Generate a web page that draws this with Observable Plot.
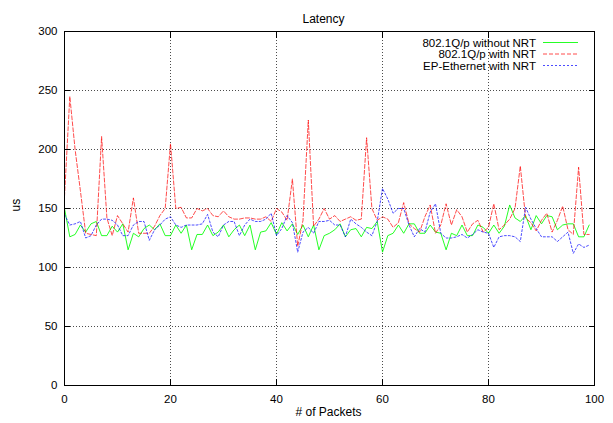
<!DOCTYPE html>
<html><head><meta charset="utf-8">
<script src="https://cdn.jsdelivr.net/npm/d3@7"></script>
<script src="https://cdn.jsdelivr.net/npm/@observablehq/plot@0.6"></script>
<style>
body{margin:0;background:#fff}
svg{font-family:"Liberation Sans",Arial,sans-serif}
</style>
</head><body><div id="chart"></div>
<script>
const title = "Latency";
const xLabel = "# of Packets";
const yLabel = "us";
const seriesNames = ["802.1Q/p without NRT", "802.1Q/p with NRT", "EP-Ethernet with NRT"];
const seriesColors = ["#00ff00", "#ff0000", "#0000ff"];
const seriesDash = [null, "4,2", "2,2"];
const xTicks = [0, 20, 40, 60, 80, 100];
const yTicks = [0, 50, 100, 150, 200, 250, 300];

const withoutNrt = [150,126,128,136,130,137,139,127,127,135,130,137,115,129,126,133,136,132,137,127,
  127,136,129,136,115,128,128,136,127,130,136,126,132,136,127,136,115,130,131,138,
  128,138,131,137,128,136,126,136,115,127,129,132,137,126,132,133,126,134,133,139,
  113,127,129,136,129,137,137,129,129,136,130,129,115,129,127,136,127,127,136,134,
  129,136,129,135,153,142,139,144,132,144,137,144,143,132,136,137,137,126,126,136];
const withNrt = [160,245,200,165,129,128,127,211,142,127,144,137,130,159,129,129,129,135,144,150,
  205,150,151,142,142,150,148,150,144,143,148,143,141,141,142,142,141,141,143,139,
  150,147,140,175,118,140,225,135,141,150,141,144,139,141,143,140,141,210,150,140,
  143,141,134,138,155,137,133,130,143,153,129,136,154,136,149,143,130,137,140,130,
  134,154,132,136,141,150,186,142,138,131,140,146,130,140,152,132,128,185,128,128];
const epEthernet = [145,136,137,139,125,127,136,141,141,140,136,127,127,136,139,139,123,132,136,141,
  143,136,134,136,136,136,137,145,130,126,136,139,139,127,136,141,139,139,141,146,
  127,133,144,138,113,130,134,129,139,139,140,136,136,126,141,137,134,130,127,139,
  167,158,146,150,150,136,126,133,130,147,154,129,125,125,126,128,125,128,132,130,
  129,117,126,127,127,126,122,151,141,133,126,126,126,122,126,130,112,120,117,119];

const allSeries = [withoutNrt, withNrt, epEthernet];
const data = [];
allSeries.forEach((arr, s) => arr.forEach((v, i) => data.push({series: seriesNames[s], packet: i, value: v})));

const lineOpacity = [0.85, 0.7, 0.7];

function legend(index, scales, values, dims) {
  const g = d3.create("svg:g");
  const right = dims.width - dims.marginRight;
  seriesNames.forEach((name, i) => {
    const y = dims.marginTop + 11.5 + i * 11.5;
    g.append("text").attr("x", right - 58).attr("y", y).attr("dy", "0.35em")
      .attr("text-anchor", "end").attr("font-size", 11.5).attr("fill", "#000").text(name);
    const ln = g.append("line").attr("x1", right - 51).attr("x2", right - 16)
      .attr("y1", y).attr("y2", y).attr("stroke", seriesColors[i]).attr("stroke-width", 1)
      .attr("stroke-opacity", lineOpacity[i]);
    if (seriesDash[i]) ln.attr("stroke-dasharray", seriesDash[i]);
  });
  return g.node();
}

const gridStyle = {stroke: "#000", strokeOpacity: 0.7, strokeDasharray: "1,2"};
const marks = [
  Plot.gridX(xTicks.slice(1, -1), gridStyle),
  Plot.gridY(yTicks.slice(1, -1), gridStyle),
  ...seriesNames.map((name, s) => Plot.line(data.filter(d => d.series === name), {
    x: "packet", y: "value", stroke: seriesColors[s], strokeWidth: 1,
    strokeOpacity: lineOpacity[s],
    strokeDasharray: seriesDash[s] || undefined
  })),
  Plot.frame({stroke: "#000", strokeWidth: 1}),
  Plot.axisX(xTicks, {anchor: "bottom", tickSize: 0, tickPadding: 9, fontSize: 11.5, label: null}),
  Plot.axisX(xTicks, {anchor: "bottom", tickSize: -6, text: null, label: null}),
  Plot.axisX(xTicks, {anchor: "top", tickSize: -6, text: null, label: null}),
  Plot.axisY(yTicks, {anchor: "left", tickSize: 0, tickPadding: 7, fontSize: 11.5, label: null}),
  Plot.axisY(yTicks, {anchor: "left", tickSize: -6, text: null, label: null}),
  Plot.axisY(yTicks, {anchor: "right", tickSize: -6, text: null, label: null}),
  Plot.text([title], {frameAnchor: "top", dy: -17, dx: -6, fontSize: 12}),
  Plot.text([xLabel], {frameAnchor: "bottom", dy: 30, dx: -1, fontSize: 12}),
  Plot.text([yLabel], {frameAnchor: "left", dx: -48, dy: 3, rotate: -90, fontSize: 12}),
  legend
];

const chart = Plot.plot({
  width: 613, height: 423,
  marginLeft: 64, marginRight: 19, marginTop: 31, marginBottom: 38,
  x: {domain: [0, 100]},
  y: {domain: [0, 300]},
  style: {fontFamily: "'Liberation Sans', Arial, sans-serif", fontSize: "12px", color: "#000", background: "#fff"},
  marks
});
document.getElementById("chart").appendChild(chart);
</script>
</body></html>
